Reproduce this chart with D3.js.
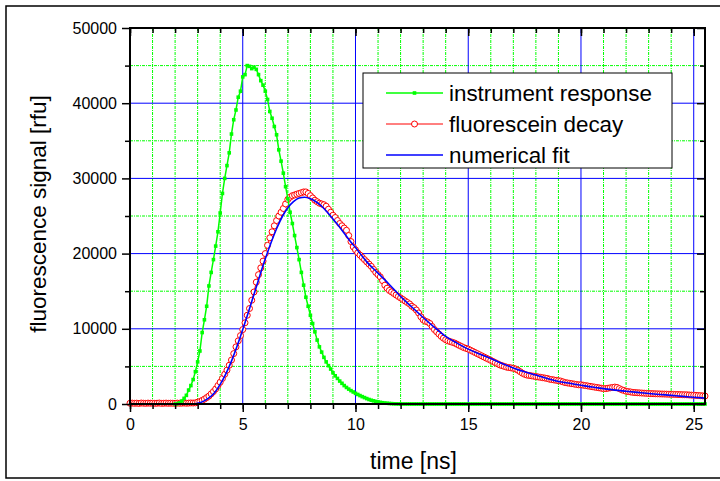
<!DOCTYPE html>
<html>
<head>
<meta charset="utf-8">
<script src="https://cdn.jsdelivr.net/npm/d3@7"></script>
<style>
  body { margin: 0; background: #fff; }
  svg { display: block; font-family: "Liberation Sans", Arial, sans-serif; }
</style>
</head>
<body>
<div id="chart"></div>
<script>
// sample spacing of the measured traces [ns]
const timeStep = 0.1

// instrument response, starts at 2.0 ns
const irfStart = 2.0
const irfValues = [
  0, 50, 150, 400, 750, 1150, 1850, 2450, 3250, 4300,
  5600, 7050, 9500, 11200, 13000, 15700, 17500, 19200, 21000, 22900,
  25400, 28000, 30000, 31700, 33400, 35900, 37800, 39100, 40800, 41600,
  43500, 43800, 45000, 44900, 44600, 44800, 44500, 43800, 43000, 42400,
  41600, 40500, 38900, 38000, 36900, 35800, 33800, 32300, 30700, 28900,
  27300, 25500, 24000, 22400, 20800, 19200, 17500, 15800, 14200, 13000,
  11800, 10700, 9600, 8500, 7600, 6900, 6200, 5600, 5100, 4650,
  4150, 3750, 3400, 3050, 2750, 2450, 2200, 1980, 1780, 1600,
  1420, 1270, 1120, 980, 850, 720, 600, 500, 420, 340,
  280, 220, 170, 130, 100, 70, 50, 30, 20, 10,
  0, 0, 0, 0, 0, 0, 0, 0, 0, 0, 0, 0, 0, 0, 0, 0, 0, 0, 0, 0,
  0, 0, 0, 0, 0, 0, 0, 0, 0, 0, 0, 0, 0, 0, 0, 0, 0, 0, 0, 0,
  0, 0, 0, 0, 0, 0, 0, 0, 0, 0, 0, 0, 0, 0, 0, 0, 0, 0, 0, 0,
  0, 0, 0, 0, 0, 0, 0, 0, 0, 0, 0, 0, 0, 0, 0, 0, 0, 0, 0, 0,
  0, 0, 0, 0, 0, 0, 0, 0, 0, 0, 0, 0, 0, 0, 0, 0, 0, 0, 0, 0,
  0, 0, 0, 0, 0, 0, 0, 0, 0, 0, 0, 0, 0, 0, 0, 0, 0, 0, 0, 0,
  0, 0, 0, 0, 0, 0, 0, 0, 0, 0, 0, 0, 0, 0, 0, 0
]

// fluorescein decay, starts at 0 ns
const decayStart = 0
const decayValues = [
  100, 120, 90, 110, 80, 130, 100, 90, 120, 100,
  110, 90, 100, 130, 80, 100, 120, 90, 110, 100,
  90, 120, 100, 110, 130, 100, 120, 140, 130, 150,
  250, 330, 480, 650, 850, 1050, 1350, 1650, 2000, 2450,
  2900, 3400, 3950, 4500, 5150, 5850, 6700, 7600, 8400, 9100,
  9900, 10800, 11800, 12700, 13800, 14900, 16200, 17200, 18100, 19000,
  20000, 21100, 22100, 22900, 23700, 24400, 25000, 25500, 26000, 26600,
  27200, 27500, 27700, 27800, 27900, 28000, 28100, 28200, 28200, 28000,
  27700, 27400, 27100, 26900, 26700, 26600, 26500, 26300, 25900, 25500,
  25100, 24800, 24400, 24000, 23700, 23400, 23100, 22400, 21600, 20900,
  20500, 20100, 19800, 19500, 19200, 18900, 18600, 18300, 17900, 17500,
  17200, 16900, 16400, 15800, 15400, 15100, 14900, 14700, 14500, 14300,
  14100, 13900, 13700, 13500, 13300, 13000, 12800, 12500, 12100, 11600,
  11200, 11000, 10900, 10700, 10300, 9900, 9600, 9300, 9000, 8750,
  8550, 8400, 8300, 8200, 8100, 7950, 7800, 7650, 7500, 7400,
  7300, 7150, 7000, 6850, 6700, 6550, 6400, 6250, 6100, 5950,
  5800, 5650, 5500, 5350, 5200, 5100, 5000, 4900, 4850, 4800,
  4750, 4650, 4500, 4300, 4100, 3950, 3850, 3800, 3750, 3700,
  3650, 3600, 3550, 3500, 3450, 3400, 3300, 3250, 3200, 3150,
  3100, 3050, 2950, 2850, 2800, 2750, 2700, 2650, 2600, 2550,
  2550, 2500, 2450, 2400, 2350, 2300, 2250, 2200, 2150, 2100,
  2050, 2050, 2100, 2150, 2200, 2250, 2200, 2050, 1900, 1800,
  1700, 1650, 1600, 1550, 1520, 1500, 1480, 1460, 1440, 1420,
  1400, 1380, 1370, 1360, 1350, 1340, 1330, 1320, 1310, 1300,
  1290, 1280, 1270, 1260, 1250, 1240, 1230, 1220, 1200, 1180,
  1170, 1150, 1130, 1110, 1080, 1060
]

// numerical fit
const fitTime = [0, 2.75, 3, 3.25, 3.5, 3.75, 4, 4.25, 4.5, 4.75, 5, 5.25, 5.5, 5.75, 6, 6.25,
  6.5, 6.75, 7, 7.25, 7.5, 7.75, 8, 8.25, 8.5, 8.75, 9, 9.25, 9.5, 9.75, 10, 10.5, 11, 11.5,
  12, 12.5, 13, 13.5, 14, 14.5, 15, 15.5, 16, 16.5, 17, 17.5, 18, 18.5, 19, 19.5, 20, 20.5,
  21, 21.5, 22, 22.5, 23, 23.5, 24, 24.5, 25, 25.5]
const fitValues = [0, 20, 100, 350, 800, 1500, 2600, 4000, 5700, 7700, 9900, 12200, 14600, 17000, 19300, 21400,
  23300, 24900, 26100, 26900, 27400, 27500, 27300, 26900, 26300, 25500, 24600, 23700, 22700, 21700, 20800, 18900, 17400, 15900,
  14300, 12900, 11500, 10200, 9000, 8100, 7300, 6650, 6050, 5400, 4800, 4300, 3850, 3400, 3000, 2750, 2500, 2250,
  2050, 1850, 1700, 1550, 1400, 1270, 1150, 1020, 900, 780]

// ticks
const xMajorTicks = [0, 5, 10, 15, 20, 25]
const xMinorTicks = d3.range(0, 26, 1)
const yMajorTicks = [0, 10000, 20000, 30000, 40000, 50000]
const yMinorTicks = [5000, 15000, 25000, 35000, 45000]

const legendLabels = ['instrument response', 'fluorescein decay', 'numerical fit']

// build point lists
const irf = irfValues.map((v, i) => ({ t: irfStart + i * timeStep, v }))
const decay = decayValues.map((v, i) => ({ t: decayStart + i * timeStep, v }))
const fit = fitValues.map((v, i) => ({ t: fitTime[i], v }))

const timeAccessor = d => d.t
const valueAccessor = d => d.v

const W = 720, H = 481
const margin = { top: 28, right: 15, bottom: 77, left: 130 }
const width = W - margin.left - margin.right
const height = H - margin.top - margin.bottom

const svg = d3.select('#chart').append('svg')
  .attr('width', W)
  .attr('height', H)

// outer frame
svg.append('rect')
  .attr('x', 6).attr('y', 6)
  .attr('width', W).attr('height', H - 9)
  .attr('fill', 'none')
  .attr('stroke', 'black')
  .attr('stroke-width', 1.5)

const g = svg.append('g')
  .attr('transform', `translate(${margin.left},${margin.top})`)

//scales
const xScale = d3.scaleLinear().domain([0, 25.5]).range([0, width])
const yScale = d3.scaleLinear().domain([0, 50000]).range([height, 0])

//grid
const grid = g.append('g')
grid.selectAll('.vminor').data(xMinorTicks.filter(t => t % 5 !== 0))
  .join('line')
  .attr('x1', d => xScale(d)).attr('x2', d => xScale(d))
  .attr('y1', 0).attr('y2', height)
  .attr('stroke', '#00ff00').attr('stroke-width', 1)
  .attr('stroke-dasharray', '3,1,1,1')
grid.selectAll('.hminor').data(yMinorTicks)
  .join('line')
  .attr('x1', 0).attr('x2', width)
  .attr('y1', d => yScale(d)).attr('y2', d => yScale(d))
  .attr('stroke', '#00ff00').attr('stroke-width', 1)
  .attr('stroke-dasharray', '3,1,1,1')
grid.selectAll('.vmajor').data(xMajorTicks.filter(t => t > 0))
  .join('line')
  .attr('x1', d => xScale(d)).attr('x2', d => xScale(d))
  .attr('y1', 0).attr('y2', height)
  .attr('stroke', '#0000ff').attr('stroke-width', 1)
grid.selectAll('.hmajor').data(yMajorTicks.filter(t => t > 0 && t < 50000))
  .join('line')
  .attr('x1', 0).attr('x2', width)
  .attr('y1', d => yScale(d)).attr('y2', d => yScale(d))
  .attr('stroke', '#0000ff').attr('stroke-width', 1)

//data
const plot = g.append('g')

const lineGen = d3.line()
  .x(d => xScale(timeAccessor(d)))
  .y(d => yScale(valueAccessor(d)))

// decay
plot.append('path')
  .attr('d', lineGen(decay))
  .attr('fill', 'none')
  .attr('stroke', 'red')
  .attr('stroke-width', 1)
plot.append('g')
  .selectAll('circle')
  .data(decay)
  .join('circle')
  .attr('cx', d => xScale(timeAccessor(d)))
  .attr('cy', d => yScale(valueAccessor(d)))
  .attr('r', 3)
  .attr('fill', 'white')
  .attr('stroke', 'red')
  .attr('stroke-width', 1)

// instrument response
plot.append('path')
  .attr('d', lineGen(irf))
  .attr('fill', 'none')
  .attr('stroke', '#00ff00')
  .attr('stroke-width', 1.5)
plot.append('g')
  .selectAll('rect')
  .data(irf)
  .join('rect')
  .attr('x', d => xScale(timeAccessor(d)) - 1.8)
  .attr('y', d => yScale(valueAccessor(d)) - 1.8)
  .attr('width', 3.6)
  .attr('height', 3.6)
  .attr('fill', '#00ff00')

// fit
plot.append('path')
  .attr('d', d3.line().curve(d3.curveMonotoneX)
    .x(d => xScale(timeAccessor(d)))
    .y(d => yScale(valueAccessor(d)))(fit))
  .attr('fill', 'none')
  .attr('stroke', '#0000ff')
  .attr('stroke-width', 1.6)

//axes
const styleAxis = sel => {
  sel.select('.domain').remove()
  sel.selectAll('line').attr('stroke', 'black').attr('stroke-width', 1.5)
  sel.selectAll('text').attr('font-size', 16).attr('fill', 'black')
    .attr('font-family', '"Liberation Sans", Arial, sans-serif')
}

g.append('g').attr('transform', `translate(0,${height})`)
  .call(d3.axisBottom(xScale).tickValues(xMinorTicks).tickSize(5).tickFormat(''))
  .call(styleAxis)
g.append('g').attr('transform', `translate(0,${height})`)
  .call(d3.axisBottom(xScale).tickValues(xMajorTicks).tickSize(8).tickPadding(7).tickFormat(d3.format('d')))
  .call(styleAxis)
g.append('g')
  .call(d3.axisTop(xScale).tickValues(xMinorTicks).tickSize(-5).tickFormat(''))
  .call(styleAxis)
g.append('g')
  .call(d3.axisTop(xScale).tickValues(xMajorTicks).tickSize(-8).tickFormat(''))
  .call(styleAxis)

g.append('g')
  .call(d3.axisLeft(yScale).tickValues(yMinorTicks).tickSize(5).tickFormat(''))
  .call(styleAxis)
g.append('g')
  .call(d3.axisLeft(yScale).tickValues(yMajorTicks).tickSize(8).tickPadding(5).tickFormat(d3.format('d')))
  .call(styleAxis)
g.append('g').attr('transform', `translate(${width},0)`)
  .call(d3.axisRight(yScale).tickValues(yMinorTicks).tickSize(-5).tickFormat(''))
  .call(styleAxis)
g.append('g').attr('transform', `translate(${width},0)`)
  .call(d3.axisRight(yScale).tickValues(yMajorTicks).tickSize(-8).tickFormat(''))
  .call(styleAxis)

// plot frame
g.append('rect')
  .attr('width', width).attr('height', height)
  .attr('fill', 'none')
  .attr('stroke', 'black')
  .attr('stroke-width', 2)

// axis titles
g.append('text')
  .attr('x', width / 2 - 4)
  .attr('y', height + 65)
  .attr('text-anchor', 'middle')
  .attr('font-size', 23)
  .text('time [ns]')
g.append('text')
  .attr('transform', `translate(${-84},${height / 2 - 2}) rotate(-90)`)
  .attr('text-anchor', 'middle')
  .attr('font-size', 22.5)
  .text('fluorescence signal [rfu]')

//legend
const legend = svg.append('g').attr('transform', 'translate(363,73)')
legend.append('rect')
  .attr('width', 309).attr('height', 95)
  .attr('fill', 'white')
  .attr('stroke', 'black')
  .attr('stroke-width', 1)
const legendColors = ['#00ff00', 'red', '#0000ff']
const rows = legend.selectAll('.row').data(legendLabels)
  .join('g')
  .attr('transform', (d, i) => `translate(0,${20 + i * 31})`)
rows.append('line')
  .attr('x1', 23).attr('x2', 80)
  .attr('stroke', (d, i) => legendColors[i])
  .attr('stroke-width', (d, i) => i === 1 ? 1 : 1.5)
rows.filter((d, i) => i === 0).append('rect')
  .attr('x', 49.7).attr('y', -1.8).attr('width', 3.6).attr('height', 3.6)
  .attr('fill', '#00ff00')
rows.filter((d, i) => i === 1).append('circle')
  .attr('cx', 51.5).attr('r', 3)
  .attr('fill', 'white').attr('stroke', 'red')
rows.append('text')
  .attr('x', 86)
  .attr('y', 7.5)
  .attr('font-size', 22.4)
  .text(d => d)
</script>
</body>
</html>
